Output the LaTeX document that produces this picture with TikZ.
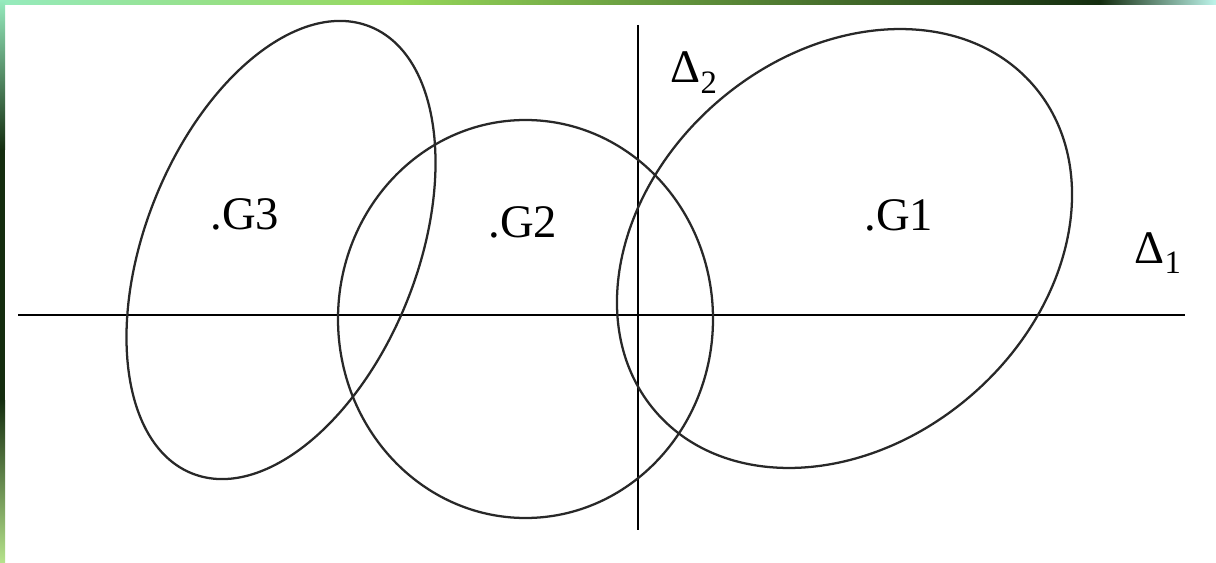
\documentclass[tikz,border=0pt]{standalone}
\usepackage{fontspec}
\setmainfont{Liberation Serif}

\tikzset{every picture/.style={line width=0.75pt}}
\tikzset{
  axisline/.style={line width=1.9pt, color=black},
  setcurve/.style={line width=1.7pt, color={rgb, 255:red, 40; green, 40; blue, 40}},
  setlabel/.style={anchor=base west, inner sep=0pt, font=\fontsize{35}{40}\selectfont},
}
\definecolor{mintgreen}{RGB}{150,235,190}
\definecolor{leafgreen}{RGB}{150,215,90}
\definecolor{darkleaf}{RGB}{20,45,15}
\definecolor{icecyan}{RGB}{190,245,235}

\begin{document}
\begin{tikzpicture}[x=0.75pt,y=0.75pt,yscale=-1,xscale=1]
\useasboundingbox (0,0) rectangle (1216,563);

%Shape: Rectangle [background strips]
\fill [white] (0,0) rectangle (1216,563);
\shade [left color=mintgreen, right color=leafgreen] (0,0) rectangle (400,5);
\shade [left color=leafgreen, right color=darkleaf] (400,0) rectangle (1100,5);
\shade [left color=darkleaf, right color=icecyan] (1100,0) rectangle (1216,5);
\shade [top color=mintgreen, bottom color=darkleaf] (0,0) rectangle (5,150);
\fill [darkleaf] (0,150) rectangle (5,400);
\shade [top color=darkleaf, bottom color=leafgreen!70] (0,400) rectangle (5,563);

%Straight Lines [Delta 1]
\coordinate (d1w) at (18,315);
\coordinate (d1e) at (1185,315);
\draw [axisline] (d1w) -- (d1e);
%Straight Lines [Delta 2]
\coordinate (d2n) at (638,25);
\coordinate (d2s) at (638,530);
\draw [axisline] (d2n) -- (d2s);

%Shape: Ellipse [G3]
\draw [setcurve, rotate around={-68.3:(281,250)}] (281,250) ellipse [x radius=240.5, y radius=136];
%Shape: Ellipse [G2]
\draw [setcurve] (525.5,319) ellipse [x radius=187.5, y radius=199];
%Shape: Ellipse [G1]
\draw [setcurve, rotate around={-40.8:(844.5,248.5)}] (844.5,248.5) ellipse [x radius=249.6, y radius=194];

% Text Node
\node (g3) [setlabel] at (210,229) {.G3};
% Text Node
\node (g2) [setlabel] at (488,237) {.G2};
% Text Node
\node (g1) [setlabel] at (864,230) {.G1};
% Text Node
\node (delta2) [setlabel] at (670,83) {Δ\textsubscript{2}};
% Text Node
\node (delta1) [setlabel] at (1134,263) {Δ\textsubscript{1}};

\end{tikzpicture}
\end{document}
